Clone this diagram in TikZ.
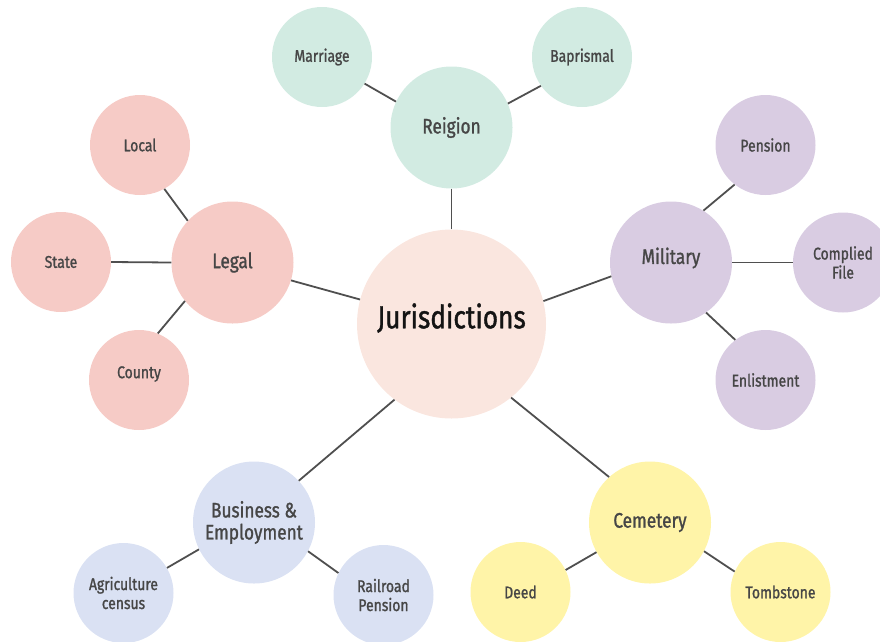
\documentclass[tikz,border=0pt]{standalone}
\usepackage{fontspec}
\setmainfont[FakeStretch=0.82,FakeBold=1.2]{Fira Sans}
\definecolor{cj}{HTML}{FAE6DF}
\definecolor{cr}{HTML}{D2EBE2}
\definecolor{cl}{HTML}{F6CBC6}
\definecolor{cm}{HTML}{D9CCE2}
\definecolor{cb}{HTML}{DAE1F3}
\definecolor{cc}{HTML}{FFF4A8}
\definecolor{txt}{HTML}{464646}
\definecolor{ln}{HTML}{4F4F4F}
\begin{document}
\begin{tikzpicture}[x=1pt,y=-1pt,
  bub/.style={circle, inner sep=0pt, align=center, text=txt},
  leaf/.style={bub, minimum size=100pt, font=\fontsize{17}{19}\selectfont},
  hub/.style={bub, minimum size=122pt, font=\fontsize{21}{22}\selectfont},
  core/.style={bub, minimum size=189pt, font=\fontsize{32}{32}\selectfont, text=black!92},
  label text/.style={inner sep=0pt, text=txt},
  link/.style={draw=ln, line width=1.8pt}]
\useasboundingbox (0,0) rectangle (880,641);
\clip (0,0) rectangle (880,641);
% central
\node[core, fill=cj] (J) at (451.5,324) {};
\node[label text, font=\fontsize{32}{32}\selectfont, text=black!92] (Jt) at (451.5,318) {Jurisdictions};
% religion
\node[hub, fill=cr] (R) at (451.5,127.5) {Reigion};
\node[leaf, fill=cr] (Ma) at (322,57) {Marriage};
\node[leaf, fill=cr] (Ba) at (582,57) {Baprismal};
% legal
\node[hub, fill=cl] (L) at (232.5,262.5) {Legal};
\node[leaf, fill=cl] (Lo) at (140,145) {Local};
\node[leaf, fill=cl] (St) at (61,262) {State};
\node[leaf, fill=cl] (Co) at (139,380) {};
\node[label text, font=\fontsize{17}{19}\selectfont] (Cot) at (139,374) {County};
% military
\node[hub, fill=cm] (Mi) at (671,262.5) {};
\node[label text, font=\fontsize{21}{22}\selectfont] (Mit) at (671,258) {Military};
\node[leaf, fill=cm] (Pe) at (765.5,145) {Pension};
\node[leaf, fill=cm] (CF) at (843,262.5) {Complied\\File};
\node[leaf, fill=cm] (En) at (765.5,380) {Enlistment};
% business
\node[hub, fill=cb] (Bu) at (254,522.5) {Business \&\\Employment};
\node[leaf, fill=cb] (Ag) at (123.5,593) {Agriculture\\census};
\node[leaf, fill=cb] (Ra) at (383.5,595) {Railroad\\Pension};
% cemetery
\node[hub, fill=cc] (Ce) at (650,522.5) {Cemetery};
\node[leaf, fill=cc] (De) at (520.5,592) {Deed};
\node[leaf, fill=cc] (To) at (780.5,592) {Tombstone};
% connectors
\draw[link] (J.90) -- (R.270);
\draw[link] (J.165.9) -- (L.343.6);
\draw[link] (J.14.7) -- (Mi.193.4);
\draw[link] (J.309.6) -- (Ce.132.7);
\draw[link] (J.233.6) -- (Bu.43);
\draw[link] (R.155.3) -- (Ma.328.8);
\draw[link] (R.23.4) -- (Ba.215.3);
\draw[link] (L.137.7) -- (Lo.299.2);
\draw[link] (L.180) -- (St.0);
\draw[link] (L.219.7) -- (Co.68);
\draw[link] (Mi.58.1) -- (Pe.232);
\draw[link] (Mi.0) -- (CF.180);
\draw[link] (Mi.305.5) -- (En.127.3);
\draw[link] (Bu.206.6) -- (Ag.30.9);
\draw[link] (Bu.332.6) -- (Ra.154.2);
\draw[link] (Ce.209.1) -- (De.26.3);
\draw[link] (Ce.332.2) -- (To.156.3);
\end{tikzpicture}
\end{document}
